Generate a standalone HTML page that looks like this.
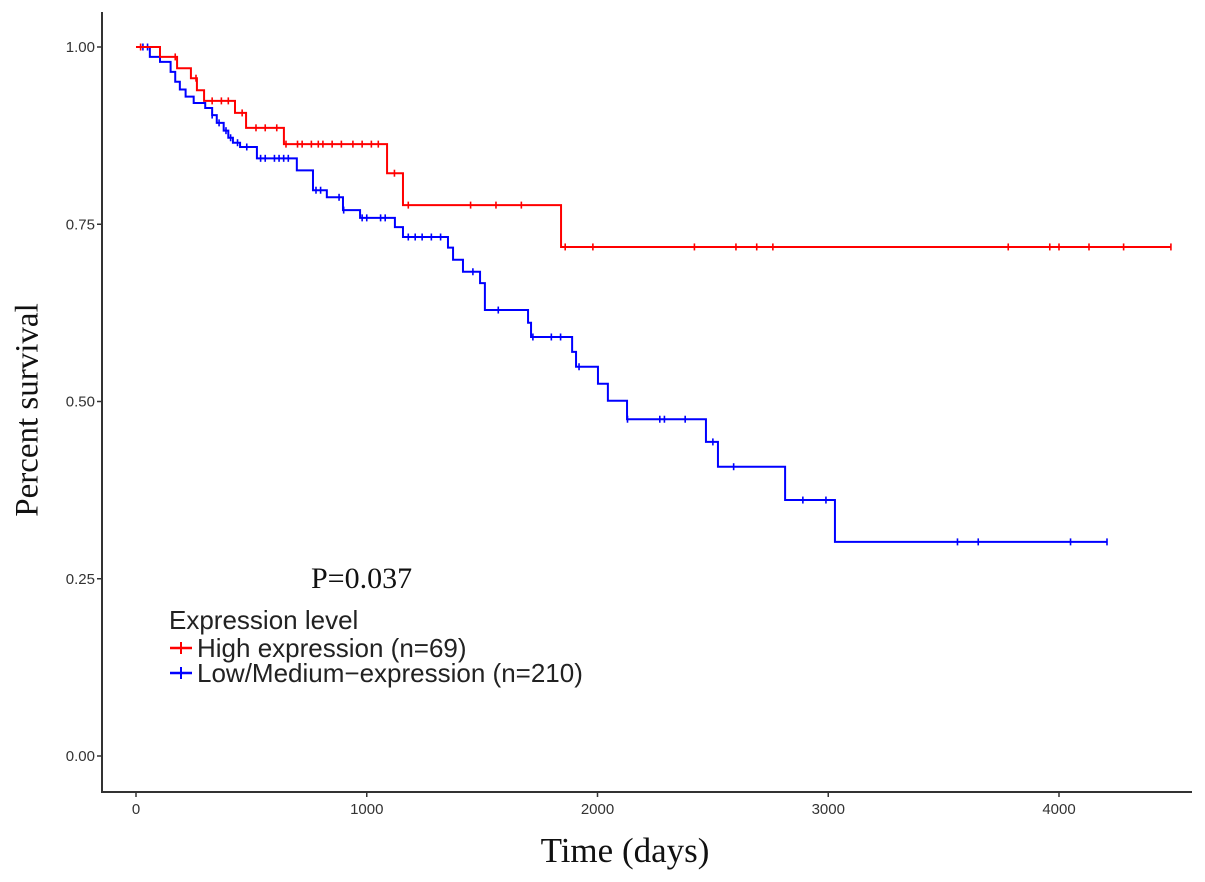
<!DOCTYPE html>
<html><head><meta charset="utf-8"><style>
html,body{margin:0;padding:0;background:#fff;}
svg{display:block;}
</style></head><body>
<svg id="chart" width="1205" height="882" viewBox="0 0 1205 882" xmlns="http://www.w3.org/2000/svg">
<g id="axes"></g>
<g id="series"></g>
<text x="30" y="410" transform="rotate(-90 30 410)" text-anchor="middle" dominant-baseline="middle" font-family="Liberation Serif, serif" font-size="33" fill="#111">Percent survival</text>
<text x="625" y="862" text-anchor="middle" font-family="Liberation Serif, serif" font-size="35" fill="#111">Time (days)</text>
<text x="311" y="588" font-family="Liberation Serif, serif" font-size="30" fill="#111">P=0.037</text>
<g font-family="Liberation Sans, sans-serif" fill="#222">
<text x="169" y="629" font-size="26">Expression level</text>
<g>
<line x1="170" y1="648" x2="192" y2="648" stroke="#ff0000" stroke-width="2.5"/>
<line x1="181" y1="642" x2="181" y2="654" stroke="#ff0000" stroke-width="2"/>
<text x="197" y="657" font-size="26">High expression (n=69)</text></g>
<g>
<line x1="170" y1="673" x2="192" y2="673" stroke="#0000ff" stroke-width="2.5"/>
<line x1="181" y1="667" x2="181" y2="679" stroke="#0000ff" stroke-width="2"/>
<text x="197" y="682" font-size="26">Low/Medium−expression (n=210)</text></g>
</g>
</svg>
<script>
const xTicks = [0, 1000, 2000, 3000, 4000];
const yTicks = [0, 0.25, 0.5, 0.75, 1.0];
const yTickLabels = ["0.00", "0.25", "0.50", "0.75", "1.00"];
const highTimes = [0, 104, 178, 238, 264, 295, 429, 477, 641, 1088, 1157, 1842, 4485];
const highSurv = [1.0, 0.986, 0.970, 0.956, 0.939, 0.924, 0.907, 0.886, 0.863, 0.822, 0.777, 0.718, 0.718];
const highCensor = [20, 170, 260, 330, 370, 400, 460, 520, 560, 610, 650, 700, 720, 760, 790, 810, 850, 890, 940, 980, 1020, 1050, 1120, 1180, 1450, 1560, 1670, 1860, 1980, 2420, 2600, 2690, 2760, 3780, 3960, 4000, 4130, 4280, 4485];
const lowTimes = [0, 60, 104, 150, 170, 190, 215, 250, 300, 330, 350, 380, 400, 420, 451, 524, 697, 767, 827, 897, 971, 1122, 1157, 1352, 1374, 1417, 1491, 1512, 1699, 1712, 1890, 1907, 2002, 2045, 2128, 2470, 2522, 2813, 3029, 4208];
const lowSurv = [1.0, 0.986, 0.979, 0.965, 0.951, 0.940, 0.930, 0.921, 0.914, 0.904, 0.893, 0.882, 0.872, 0.865, 0.859, 0.843, 0.826, 0.798, 0.788, 0.770, 0.759, 0.746, 0.732, 0.717, 0.700, 0.683, 0.667, 0.629, 0.611, 0.591, 0.570, 0.549, 0.525, 0.501, 0.475, 0.443, 0.408, 0.361, 0.302, 0.302];
const lowCensor = [30, 50, 330, 360, 390, 410, 440, 480, 540, 560, 600, 620, 640, 660, 780, 800, 880, 900, 980, 1000, 1060, 1080, 1180, 1210, 1240, 1280, 1320, 1460, 1570, 1720, 1800, 1840, 1920, 2130, 2270, 2290, 2380, 2500, 2590, 2890, 2990, 3560, 3650, 4050, 4208];

const NS = "http://www.w3.org/2000/svg";
const X = t => 136 + t * 0.23075;
const Y = s => 756 - s * 709;
function mk(tag, attrs, parent) {
  const e = document.createElementNS(NS, tag);
  for (const k in attrs) e.setAttribute(k, attrs[k]);
  parent.appendChild(e);
  return e;
}
const axes = document.getElementById('axes');
const series = document.getElementById('series');
const yAxis = mk('line', {x1: 102, y1: 12, x2: 102, y2: 792, stroke: '#333', 'stroke-width': 2}, axes);


const xAxis = mk('line', {x1: 101, y1: 792, x2: 1192, y2: 792, stroke: '#333', 'stroke-width': 2}, axes);


xTicks.forEach(v => {
  mk('line', {x1: X(v), y1: 792, x2: X(v), y2: 797, stroke: '#333', 'stroke-width': 1.5}, axes);
  const t = mk('text', {x: X(v), y: 814, 'text-anchor': 'middle', 'font-family': 'Liberation Sans, sans-serif', 'font-size': 15, fill: '#333'}, axes);
  t.textContent = v;
  
  
});
yTicks.forEach((v, i) => {
  mk('line', {x1: 97, y1: Y(v), x2: 102, y2: Y(v), stroke: '#333', 'stroke-width': 1.5}, axes);
  const t = mk('text', {x: 95, y: Y(v) + 5, 'text-anchor': 'end', 'font-family': 'Liberation Sans, sans-serif', 'font-size': 15, fill: '#333'}, axes);
  t.textContent = yTickLabels[i];
  
  
});
function survAt(times, surv, t) {
  let s = surv[0];
  for (let i = 0; i < times.length; i++) if (times[i] <= t) s = surv[i];
  return s;
}
function drawCurve(times, surv, censor, color, name) {
  let d = `M${X(times[0])},${Y(surv[0])}`;
  for (let i = 1; i < times.length; i++) {
    d += ` H${X(times[i])} V${Y(surv[i])}`;
  }
  const p = mk('path', {d: d, fill: 'none', stroke: color, 'stroke-width': 2}, series);
  
  
  censor.forEach(c => {
    const y = Y(survAt(times, surv, c));
    const m = mk('line', {x1: X(c), y1: y - 3.5, x2: X(c), y2: y + 3.5, stroke: color, 'stroke-width': 1.6}, series);
    
    
  });
}
drawCurve(lowTimes, lowSurv, lowCensor, '#0000ff', 'low-expression');
drawCurve(highTimes, highSurv, highCensor, '#ff0000', 'high-expression');
</script>
</body></html>
